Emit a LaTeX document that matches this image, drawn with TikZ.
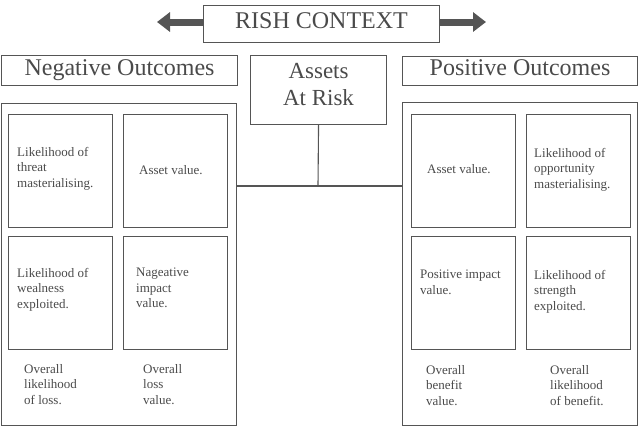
\documentclass[tikz,border=0pt]{standalone}
\usepackage{fontspec}
\setmainfont{Liberation Serif}
\usetikzlibrary{arrows.meta,positioning}

\definecolor{linegray}{HTML}{555555}
\definecolor{textgray}{HTML}{4A4A4A}

\begin{document}
\begin{tikzpicture}[x=1pt,y=-1pt,>={Triangle[length=13pt,width=19pt]},node distance=10pt,
  box/.style={draw=linegray,line width=1.1pt,inner sep=0pt,anchor=north west},
  cell/.style={box,minimum width=104pt,minimum height=113pt},
  head/.style={box,text=textgray,text depth=6pt,font=\fontsize{24}{27}\selectfont},
  note/.style={anchor=north west,inner sep=0pt,align=left,text=textgray,font=\fontsize{13}{15.5}\selectfont}]

  \useasboundingbox (0,0) rectangle (638,426);

  \node[head,minimum width=236pt,minimum height=37pt] (ctx) at (203,5) {RISH CONTEXT};
  \node[head,minimum width=236pt,minimum height=30pt] (neg) at (1,55) {Negative Outcomes};
  \node[head,minimum width=136pt,minimum height=69pt,align=center,text depth=12pt,font=\fontsize{23}{27}\selectfont] (assets) at (250,55) {Assets\\At Risk};
  \node[head,minimum width=235pt,minimum height=29pt] (pos) at (402,56) {Positive Outcomes};

  \coordinate (lt) at (157,22);
  \coordinate (rt) at (486,22);
  \draw[->,linegray,line width=7pt] (ctx.west |- lt) -- (lt);
  \draw[->,linegray,line width=7pt] (ctx.east |- rt) -- (rt);

  \node[box,minimum width=235pt,minimum height=322pt] (negbox) at (1,103) {};
  \node[box,minimum width=235pt,minimum height=323pt] (posbox) at (402,102) {};

  % four cells on each side
  \node[cell] (c1) at (8,114) {};
  \node[cell] (c2) [right=of c1] {};
  \node[cell] (c3) [below=8pt of c1] {};
  \node[cell] (c4) [right=of c3] {};

  \node[cell] (d1) at (411,114) {};
  \node[cell] (d2) [right=10pt of d1] {};
  \node[cell] (d3) [below=8pt of d1] {};
  \node[cell] (d4) [right=10pt of d3] {};

  \coordinate (hub) at (318,186);
  \draw[linegray,line width=1.1pt] (assets.south) -- (hub);
  \draw[linegray,line width=1.1pt] (negbox.east |- hub) -- (posbox.west |- hub);

  \node[note] (n1) at (17,147) {Likelihood of\\threat\\masterialising.};
  \node[note] (n2) at (139,165) {Asset value.};
  \node[note] (n3) at (17,268) {Likelihood of\\wealness\\exploited.};
  \node[note] (n4) at (136,268) {Nageative\\impact\\value.};
  \node[note] (n5) at (24,364) {Overall\\likelihood\\of loss.};
  \node[note] (n6) at (143,364) {Overall\\loss\\value.};

  \node[note] (m1) at (427,164) {Asset value.};
  \node[note] (m2) at (534,148) {Likelihood of\\opportunity\\masterialising.};
  \node[note] (m3) at (420,270) {Positive impact\\value.};
  \node[note] (m4) at (534,270) {Likelihood of\\strength\\exploited.};
  \node[note] (m5) at (426,365) {Overall\\benefit\\value.};
  \node[note] (m6) at (550,365) {Overall\\likelihood\\of benefit.};

\end{tikzpicture}
\end{document}
